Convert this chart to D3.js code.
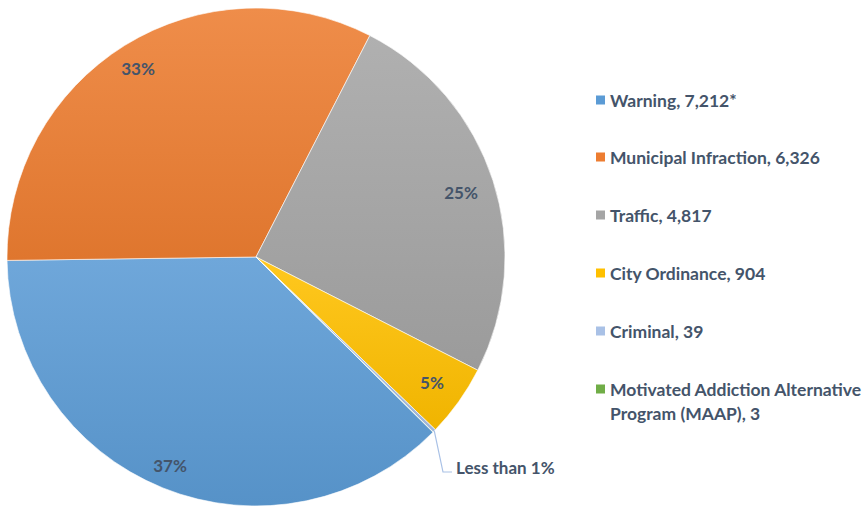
<!DOCTYPE html>
<html><head><meta charset="utf-8">
<script src="https://cdn.jsdelivr.net/npm/d3@7"></script>
<style>body{margin:0;background:#fff;}svg{display:block;}</style>
</head><body>
<svg id="c" width="864" height="506"></svg>
<script>
const categories = ["Warning, 7,212*", "Municipal Infraction, 6,326", "Traffic, 4,817", "City Ordinance, 904", "Criminal, 39", "Motivated Addiction Alternative Program (MAAP), 3"];
const values = [7212, 6326, 4817, 904, 39, 3];
const pctLabels = ["37%", "33%", "25%", "5%", "", ""];
const colors = ["#5B9BD5", "#ED7D31", "#A5A5A5", "#FFC000", "#A9C1E6", "#70AD47"];

const svg = d3.select("#c");
const cx = 256, cy = 257, R = 249;
const font = "Lato, 'Open Sans', sans-serif";
const textColor = "#44546A";
const fs = 17.5;

const defs = svg.append("defs");
colors.forEach((c, i) => {
  const g = defs.append("linearGradient").attr("id", "g" + i).attr("x1", 0).attr("y1", 0).attr("x2", 0).attr("y2", 1);
  g.append("stop").attr("offset", "0%").attr("stop-color", d3.interpolateRgb(c, "#fff")(0.12));
  g.append("stop").attr("offset", "100%").attr("stop-color", d3.interpolateRgb(c, "#000")(0.06));
});

const start = 134.7 * Math.PI / 180;
const pie = d3.pie().sort(null).value(d => d).startAngle(start).endAngle(start + 2 * Math.PI);
const arcs = pie(values);
const arc = d3.arc().innerRadius(0).outerRadius(R);
const g = svg.append("g").attr("transform", `translate(${cx},${cy})`);
g.selectAll("path").data(arcs).enter().append("path")
  .attr("d", arc).attr("fill", (d, i) => `url(#g${i})`)
  .attr("stroke", "#fff").attr("stroke-width", 0.6);

const labelPos = [
  [-86, 208], [-118, -189], [205, -65], [176, 125]
];
g.selectAll("text.pct").data(arcs.slice(0, 4)).enter().append("text")
  .attr("x", (d, i) => labelPos[i][0]).attr("y", (d, i) => labelPos[i][1])
  .attr("text-anchor", "middle").attr("dominant-baseline", "central")
  .attr("font-family", font).attr("font-weight", "bold").attr("font-size", fs - 0.5)
  .attr("fill", textColor).text((d, i) => pctLabels[i]);

// Less than 1% callout
const small = arcs[4];
const mid = (small.startAngle + small.endAngle) / 2;
const px = Math.sin(mid) * R, py = -Math.cos(mid) * R;
g.append("polyline")
  .attr("points", `${px},${py} ${443 - cx},${472 - cy} ${452 - cx},${472 - cy}`)
  .attr("fill", "none").attr("stroke", "#A9C1E6").attr("stroke-width", 1.2);
svg.append("text").attr("x", 456).attr("y", 467).attr("dominant-baseline", "central")
  .attr("font-family", font).attr("font-weight", "bold").attr("font-size", fs - 0.5)
  .attr("fill", textColor).text("Less than 1%");

// Legend
const legY = [100, 157, 215, 273, 331, 389];
const lg = svg.append("g");
categories.forEach((c, i) => {
  lg.append("rect").attr("x", 596).attr("y", legY[i] - 4.5).attr("width", 9).attr("height", 9).attr("fill", colors[i]);
  const t = lg.append("text").attr("x", 610).attr("y", legY[i]).attr("dominant-baseline", "central")
    .attr("font-family", font).attr("font-weight", "bold").attr("font-size", fs).attr("fill", textColor);
  if (i === 5) {
    t.append("tspan").attr("x", 610).text("Motivated Addiction Alternative");
    t.append("tspan").attr("x", 610).attr("dy", 24).text("Program (MAAP), 3");
  } else t.text(c);
});
</script>
</body></html>
